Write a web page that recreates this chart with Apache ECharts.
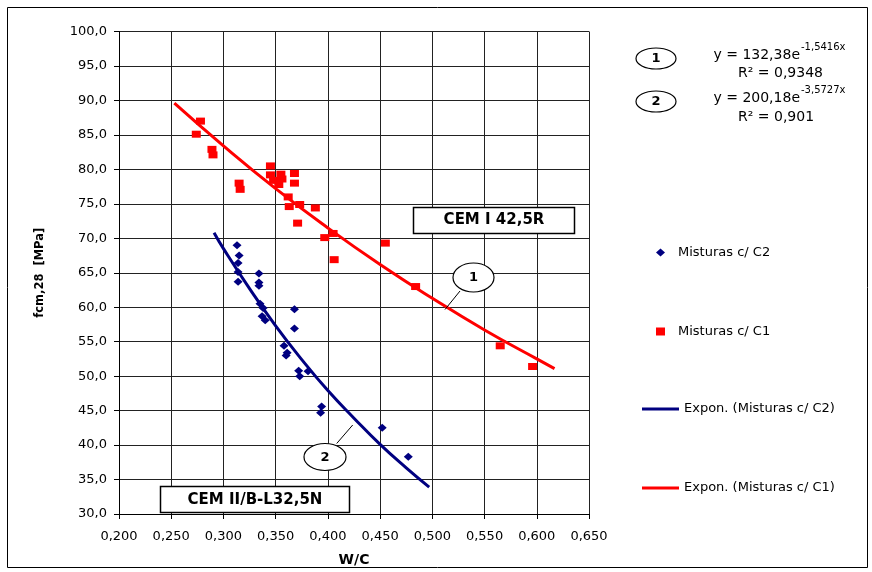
<!DOCTYPE html>
<html><head><meta charset="utf-8">
<script src="https://cdn.jsdelivr.net/npm/echarts@6/dist/echarts.min.js"></script>
<style>html,body{margin:0;padding:0;background:#fff}#c{width:872px;height:572px}</style>
</head><body><div id="c"></div>
<script>
// ---- data ----
const xMin = 0.2, xMax = 0.65, xStep = 0.05;
const yMin = 30, yMax = 100, yStep = 5;

const nameC2 = 'Misturas c/ C2';
const nameC1 = 'Misturas c/ C1';
const nameFitC2 = 'Expon. (Misturas c/ C2)';
const nameFitC1 = 'Expon. (Misturas c/ C1)';

// W/C, fcm28 [MPa]
const pointsC2 = [
  [0.313,69.0],[0.315,67.5],[0.314,66.4],[0.314,65.1],[0.314,63.7],
  [0.334,64.9],[0.334,63.6],[0.334,63.1],[0.335,60.5],[0.338,59.9],
  [0.337,58.7],[0.340,58.1],[0.368,59.7],[0.368,56.9],[0.358,54.4],
  [0.361,53.4],[0.360,53.0],[0.372,50.8],[0.373,50.0],[0.381,50.7],
  [0.394,45.6],[0.393,44.7],[0.452,42.5],[0.477,38.3]
];
const pointsC1 = [
  [0.274,85.1],[0.278,87.0],[0.289,82.9],[0.290,82.1],[0.315,78.0],
  [0.316,77.1],[0.345,80.5],[0.345,79.2],[0.348,78.4],[0.355,79.3],
  [0.356,78.6],[0.353,77.8],[0.368,79.4],[0.368,78.0],[0.362,76.0],
  [0.363,74.6],[0.373,74.9],[0.388,74.4],[0.371,72.2],[0.397,70.1],
  [0.405,70.7],[0.406,66.9],[0.455,69.3],[0.484,63.0],[0.565,54.4],
  [0.596,51.4]
];
// trend lines, points
const fitC2 = [
  [0.291,70.8],[0.300,68.5],[0.325,62.7],[0.350,57.3],[0.375,52.4],
  [0.400,47.9],[0.425,43.9],[0.450,40.1],[0.475,36.7],[0.497,33.9]
];
const fitC1 = [
  [0.253,89.6],[0.300,83.4],[0.350,77.2],[0.400,71.5],[0.450,66.2],
  [0.500,61.3],[0.550,56.7],[0.600,52.5],[0.617,51.1]
];

const eq1Main = 'y = 132,38e', eq1Sup = '-1,5416x', eq1R2 = 'R² = 0,9348';
const eq2Main = 'y = 200,18e', eq2Sup = '-3,5727x', eq2R2 = 'R² = 0,901';
const label1 = 'CEM I 42,5R';
const label2 = 'CEM II/B-L32,5N';
const xName = 'W/C';
const yName = 'fcm,28  [MPa]';

const FONT = 'DejaVu Sans';
const NAVY = '#000080', RED = '#ff0000';

const chart = echarts.init(document.getElementById('c'), null, {renderer: 'canvas'});

const g = [];
// outer frame
g.push({type:'rect', shape:{x:7.5,y:7.5,width:860,height:560}, style:{fill:null, stroke:'#000', lineWidth:1}, silent:true, z:0});
// cement type boxes
g.push({type:'rect', shape:{x:413.5,y:207.5,width:161,height:26}, style:{fill:'#fff', stroke:'#000', lineWidth:1.5}, z:10});
g.push({type:'text', x:494, y:220.5, style:{text:label1, fontFamily:FONT, fontWeight:'bold', fontSize:15, fill:'#000', align:'center', verticalAlign:'middle'}, z:11});
g.push({type:'rect', shape:{x:160.5,y:486.5,width:189,height:26}, style:{fill:'#fff', stroke:'#000', lineWidth:1.5}, z:10});
g.push({type:'text', x:255, y:500, style:{text:label2, fontFamily:FONT, fontWeight:'bold', fontSize:15, fill:'#000', align:'center', verticalAlign:'middle'}, z:11});
// callouts on the plot
g.push({type:'line', shape:{x1:460,y1:291,x2:445,y2:309.5}, style:{stroke:'#000', lineWidth:1}, z:10});
g.push({type:'ellipse', shape:{cx:473.5,cy:277.5,rx:20.5,ry:14.5}, style:{fill:'#fff', stroke:'#000', lineWidth:1.2}, z:10});
g.push({type:'text', x:473.5, y:278, style:{text:'1', fontFamily:FONT, fontWeight:'bold', fontSize:13, fill:'#000', align:'center', verticalAlign:'middle'}, z:11});
g.push({type:'line', shape:{x1:352.7,y1:425,x2:336.7,y2:443.5}, style:{stroke:'#000', lineWidth:1}, z:10});
g.push({type:'ellipse', shape:{cx:325,cy:457,rx:21,ry:13.5}, style:{fill:'#fff', stroke:'#000', lineWidth:1.2}, z:10});
g.push({type:'text', x:325, y:457.5, style:{text:'2', fontFamily:FONT, fontWeight:'bold', fontSize:13, fill:'#000', align:'center', verticalAlign:'middle'}, z:11});
// equations block
[[58.5, eq1Main, eq1Sup, eq1R2, '1'], [101.5, eq2Main, eq2Sup, eq2R2, '2']].forEach(function (e, i) {
  const cy = e[0];
  g.push({type:'ellipse', shape:{cx:656,cy:cy,rx:20,ry:10.5}, style:{fill:'#fff', stroke:'#000', lineWidth:1.2}, z:10});
  g.push({type:'text', x:656, y:cy+0.5, style:{text:e[4], fontFamily:FONT, fontWeight:'bold', fontSize:13, fill:'#000', align:'center', verticalAlign:'middle'}, z:11});
  const my = i === 0 ? 55 : 98.5;
  g.push({type:'text', x:800, y:my, style:{text:e[1], fontFamily:FONT, fontSize:14, fill:'#000', align:'right', verticalAlign:'middle'}, z:11});
  g.push({type:'text', x:801, y:my-8, style:{text:e[2], fontFamily:FONT, fontSize:10, fill:'#000', align:'left', verticalAlign:'middle'}, z:11});
  g.push({type:'text', x:738, y:my+18.5, style:{text:e[3], fontFamily:FONT, fontSize:14, fill:'#000', align:'left', verticalAlign:'middle'}, z:11});
});

const fmt3 = v => v.toFixed(3).replace('.', ',');
const fmt1 = v => v.toFixed(1).replace('.', ',');
const legendText = {fontFamily: FONT, fontSize: 13, color: '#000', lineHeight: 15};

chart.setOption({
  animation: false,
  backgroundColor: '#fff',
  textStyle: {fontFamily: FONT},
  grid: {left: 119, right: 872 - 589, top: 31.5, bottom: 572 - 518, containLabel: false},
  legend: [
    {
      orient: 'vertical', left: 651, top: 240,
      itemWidth: 9, itemHeight: 8, itemGap: 64,
      selectedMode: false,
      textStyle: Object.assign({padding: [0, 0, 0, 8]}, legendText),
      data: [{name: nameC2, icon: 'diamond'}, {name: nameC1, icon: 'rect'}]
    },
    {
      orient: 'vertical', left: 637, top: 396.5,
      itemWidth: 37, itemHeight: 3, itemGap: 64,
      selectedMode: false,
      textStyle: legendText,
      data: [{name: nameFitC2, icon: 'rect'}, {name: nameFitC1, icon: 'rect'}]
    }
  ],
  xAxis: {
    type: 'value', min: xMin, max: xMax, interval: xStep,
    name: xName, nameLocation: 'middle', nameGap: 39,
    nameTextStyle: {fontFamily: FONT, fontWeight: 'bold', fontSize: 14, color: '#000'},
    axisLine: {lineStyle: {color: '#000', width: 1}},
    axisTick: {show: true, length: 5, lineStyle: {color: '#000'}},
    axisLabel: {formatter: fmt3, fontFamily: FONT, fontSize: 13, color: '#000', margin: 16},
    splitLine: {show: true, lineStyle: {color: '#222', width: 1}}
  },
  yAxis: {
    type: 'value', min: yMin, max: yMax, interval: yStep,
    name: yName, nameLocation: 'middle', nameGap: 73, nameRotate: 90,
    nameTextStyle: {fontFamily: FONT, fontWeight: 'bold', fontSize: 11.5, color: '#000', padding: [0, 0, 0, 0]},
    axisLine: {show: true, lineStyle: {color: '#000', width: 1}},
    axisTick: {show: true, length: 5, lineStyle: {color: '#000'}},
    axisLabel: {formatter: fmt1, fontFamily: FONT, fontSize: 13, color: '#000', margin: 12},
    splitLine: {show: true, lineStyle: {color: '#222', width: 1}}
  },
  series: [
    {name: nameC2, type: 'scatter', data: pointsC2, symbol: 'diamond', symbolSize: [9, 8], itemStyle: {color: NAVY, opacity: 1}, z: 3},
    {name: nameC1, type: 'scatter', data: pointsC1, symbol: 'rect', symbolSize: [9, 7], itemStyle: {color: RED, opacity: 1}, z: 3},
    {name: nameFitC2, type: 'line', data: fitC2, smooth: true, symbol: 'none', showSymbol: false, lineStyle: {color: NAVY, width: 3}, itemStyle: {color: NAVY}, z: 4},
    {name: nameFitC1, type: 'line', data: fitC1, smooth: true, symbol: 'none', showSymbol: false, lineStyle: {color: RED, width: 3}, itemStyle: {color: RED}, z: 4}
  ],
  graphic: g
});
</script>
</body></html>
